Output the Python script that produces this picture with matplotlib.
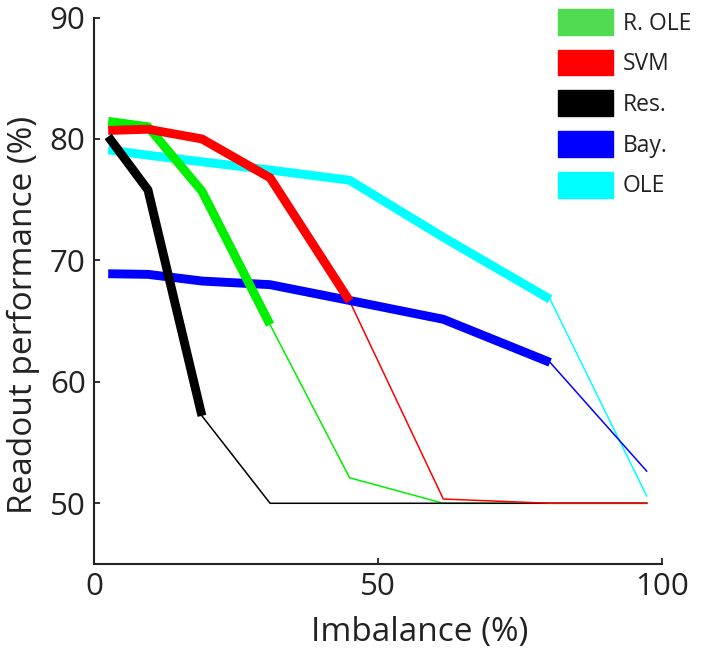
import numpy as np
import matplotlib
matplotlib.use("Agg")
import matplotlib.pyplot as plt
import matplotlib.patches as mpatches

plt.rcParams['font.family'] = ['Open Sans', 'DejaVu Sans']

# imbalance levels (%)
imbalance = [2.5, 9.5, 19, 31, 45, 61.5, 80.3, 97.3]

# readout performance (%) per decoder
r_ole = [81.45, 81.0, 75.7, 64.7, 52.1, 50.0, 50.0, 50.0]
svm = [80.7, 80.8, 80.0, 76.8, 66.65, 50.35, 50.0, 50.0]
res = [80.2, 75.8, 57.2, 50.0, 50.0, 50.0, 50.0, 50.0]
bay = [68.9, 68.85, 68.3, 68.0, 66.7, 65.15, 61.6, 52.65]
ole = [79.1, 78.66, 78.12, 77.44, 76.6, 71.9, 66.8, 50.6]

# index of last point drawn with the thick line
thick_end = {'R. OLE': 3, 'SVM': 4, 'Res.': 2, 'Bay.': 6, 'OLE': 6}

legend_names = ['R. OLE', 'SVM', 'Res.', 'Bay.', 'OLE']
legend_colors = ['#50dc50', '#ff0000', '#000000', '#0000ff', '#00ffff']

series = [
    # name, values, color, thick zorder, thin zorder
    ('OLE', ole, '#00ffff', 2, 1.0),
    ('Bay.', bay, '#0000ff', 3, 1.05),
    ('R. OLE', r_ole, '#00f000', 4, 1.1),
    ('Res.', res, '#000000', 6, 1.15),
    ('SVM', svm, '#ff0000', 5, 1.2),
]

fig = plt.figure(figsize=(7.05, 6.59), dpi=100)
ax = fig.add_axes([94 / 705, 1 - 564 / 659, (662 - 94) / 705, (564 - 17.5) / 659])

x = np.array(imbalance)
for name, vals, col, zt, zn in series:
    y = np.array(vals)
    k = thick_end[name]
    ax.plot(x[:k + 1], y[:k + 1], color=col, lw=6.4, solid_capstyle='butt',
            solid_joinstyle='miter', zorder=zt)
    ax.plot(x[k:], y[k:], color=col, lw=1.1, zorder=zn)

ax.set_xlim(0, 100)
ax.set_ylim(45, 90)
ax.set_xticks([0, 50, 100])
ax.set_yticks([50, 60, 70, 80, 90])

for s in ['top', 'right']:
    ax.spines[s].set_visible(False)
for s in ['left', 'bottom']:
    ax.spines[s].set_linewidth(1.5)
    ax.spines[s].set_color('#222222')

ax.tick_params(direction='in', length=4.5, width=1.3, colors='#222222',
               labelsize=22.5, pad=6)

ax.set_xlabel('Imbalance (%)', fontsize=24, color='#222222')
ax.set_ylabel('Readout performance (%)', fontsize=24, color='#222222')
ax.xaxis.set_label_coords((420 - 94) / (662 - 94), -(633 - 564) / (564 - 17.5), transform=ax.transAxes)
ax.xaxis.label.set_va('center')
ax.yaxis.set_label_coords(-(94 - 23) / (662 - 94), (564 - 315) / (564 - 17.5), transform=ax.transAxes)
ax.yaxis.label.set_va('center')

handles = [mpatches.Patch(color=c, label=n) for n, c in zip(legend_names, legend_colors)]
leg = ax.legend(handles=handles, loc='upper left', frameon=False,
                bbox_to_anchor=(558 / 705, 1 - 9 / 659), bbox_transform=fig.transFigure,
                fontsize=16.5, handlelength=2.4, handleheight=1.35,
                labelspacing=0.62, handletextpad=0.44, borderaxespad=0,
                borderpad=0)
for t in leg.get_texts():
    t.set_color('#222222')

fig.savefig('out.png', dpi=100)
